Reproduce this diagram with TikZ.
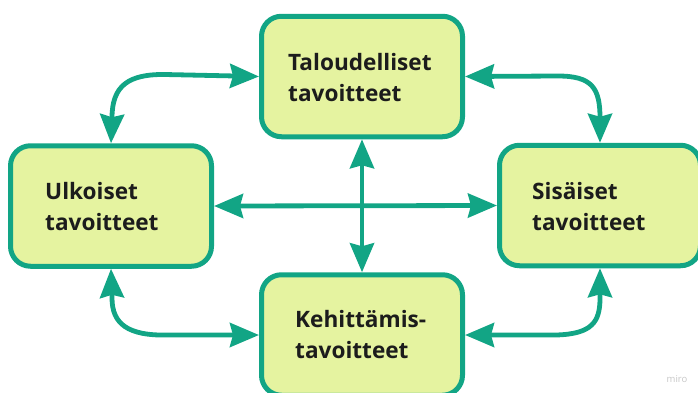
\documentclass[tikz,border=0pt]{standalone}
\usepackage{fontspec}
\setmainfont{Open Sans}
\usetikzlibrary{arrows.meta}
\definecolor{teal1}{HTML}{12A585}
\definecolor{fillg}{HTML}{E5F3A0}
\definecolor{txt}{HTML}{1C1C1C}
\tikzset{
  goalbox/.style={draw=teal1, fill=fillg, line width=5pt, rounded corners=20pt, minimum width=201pt, minimum height=120.5pt},
  goaltext/.style={anchor=west, align=left, text=txt, font=\fontsize{22.6}{31}\selectfont\bfseries, inner sep=0pt},
  link/.style={draw=teal1, line width=4.8pt, {Stealth[length=29pt,width=24pt,inset=3pt]}-{Stealth[length=29pt,width=24pt,inset=3pt]}},
}
\begin{document}
\begin{tikzpicture}[x=1pt,y=-1pt]
\useasboundingbox (0,0) rectangle (698,392);
\node[goalbox] (T) at (362,76.5) {};
\node[goalbox] (L) at (111,206) {};
\node[goalbox] (R) at (600,205.5) {};
\node[goalbox] (B) at (362,335) {};
\node[goaltext] (tT) at (288,78) {Taloudelliset\\tavoitteet};
\node[goaltext] (tL) at (45,207) {Ulkoiset\\tavoitteet};
\node[goaltext] (tR) at (532,207) {Sisäiset\\tavoitteet};
\node[goaltext] (tB) at (295,335) {Kehittämis-\\tavoitteet};
\path[link] (T.west) -- (165,74.5) .. controls (128,74) and (112,86) .. (112,118) -- (L.north);
\path[link] (T.east) -- (558,76) .. controls (592,76) and (600,88) .. (600,118) -- (R.north);
\path[link] (L.south) -- (112,298) .. controls (112,324) and (128,336) .. (168,335) -- (B.west);
\path[link] (B.east) -- (556,335) .. controls (592,334) and (600,322) .. (600,298) -- (R.south);
\path[link] (L.east) -- (R.west);
\path[link] (T.south) -- (B.north);
\node[text=black!22, font=\fontsize{9.5}{9.5}\selectfont, inner sep=0pt] (miro) at (677,379) {miro};
\end{tikzpicture}
\end{document}
